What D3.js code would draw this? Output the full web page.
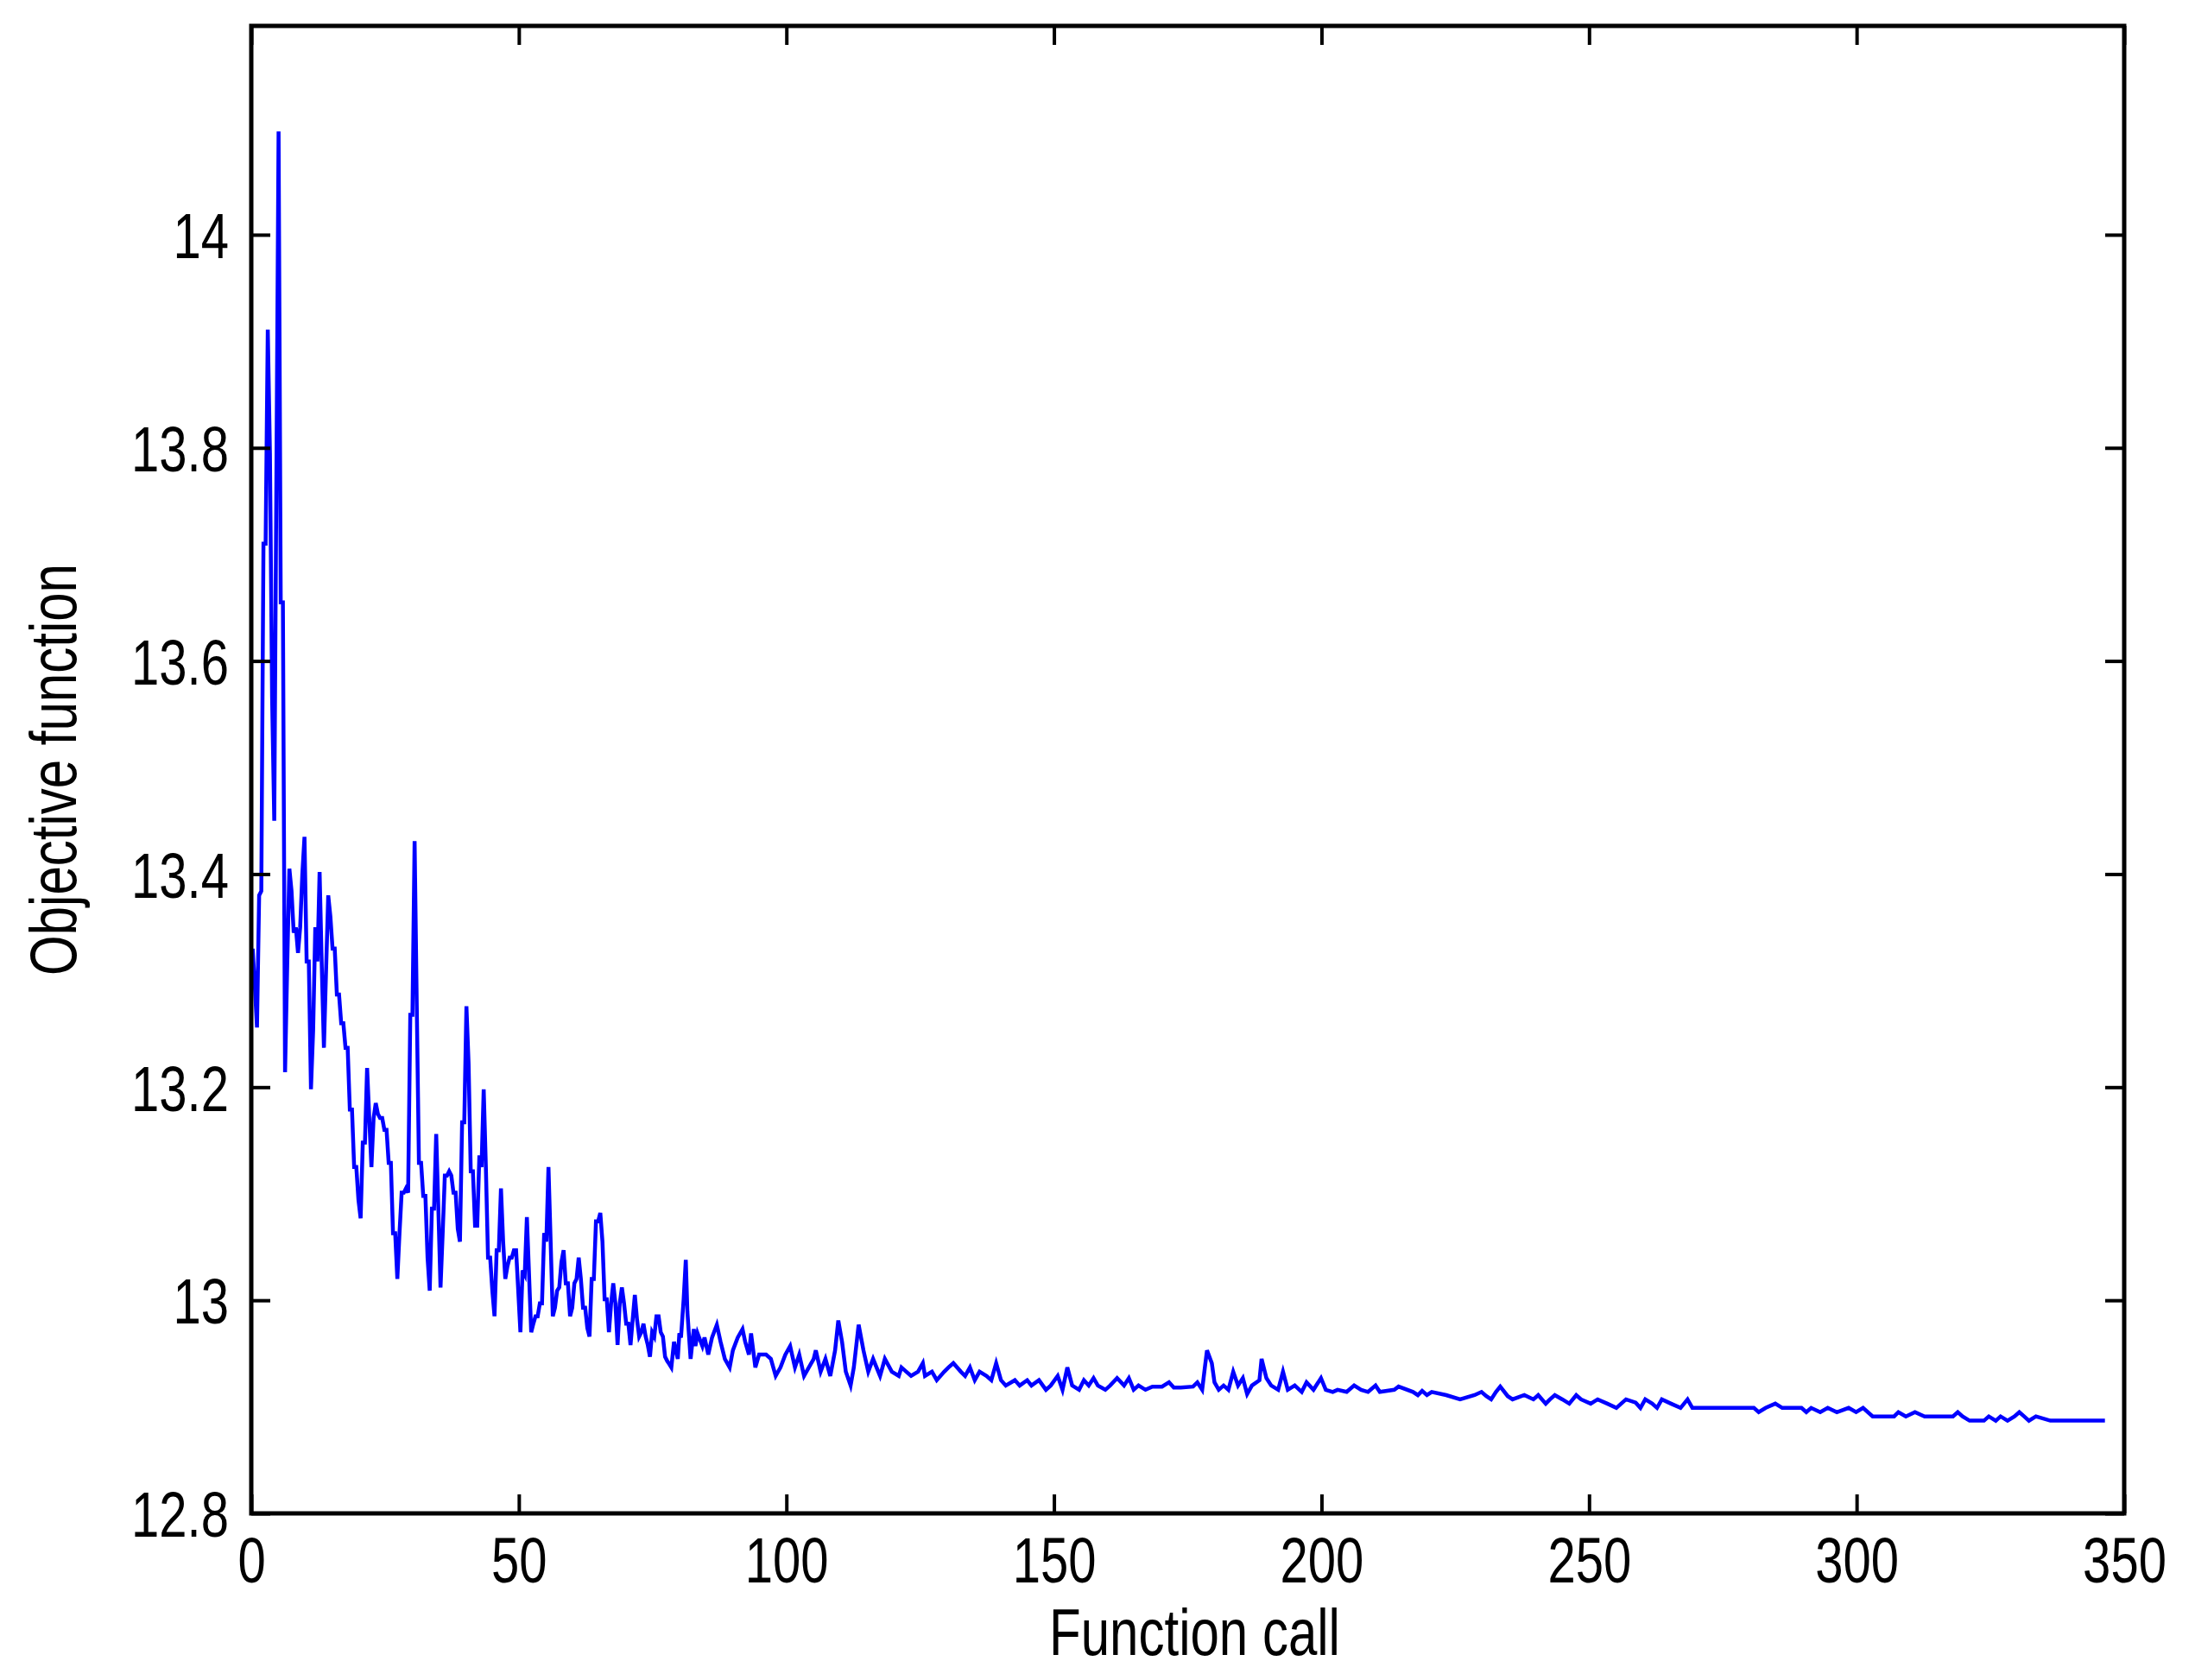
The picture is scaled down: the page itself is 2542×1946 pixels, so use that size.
<!DOCTYPE html>
<html><head><meta charset="utf-8">
<script src="https://cdn.jsdelivr.net/npm/d3@7"></script>
<style>body{margin:0;background:#fff}</style>
</head><body>
<svg id="c" width="2542" height="1946"></svg>
<script>
// Early phase (roughly 0..78 function calls), sampled evenly
const earlyStart = 0.26, earlyStep = 0.4035;
const earlyValues = [
13.33,13.295,13.256,13.38,13.384,13.71,13.71,13.911,13.795,13.566,13.45,13.775,14.097,13.655,13.655,13.214,
13.314,13.405,13.384,13.345,13.35,13.326,13.35,13.40,13.435,13.318,13.318,13.198,13.253,13.35,13.318,13.402,
13.314,13.237,13.31,13.38,13.36,13.33,13.33,13.287,13.287,13.26,13.26,13.237,13.237,13.179,13.179,13.125,
13.125,13.094,13.077,13.148,13.148,13.218,13.171,13.125,13.171,13.185,13.175,13.171,13.171,13.16,13.16,13.129,
13.129,13.063,13.063,13.02,13.063,13.101,13.101,13.105,13.101,13.268,13.268,13.431,13.276,13.129,13.129,13.098,
13.098,13.04,13.009,13.086,13.086,13.156,13.086,13.012,13.063,13.117,13.117,13.121,13.117,13.101,13.101,13.067,
13.055,13.167,13.167,13.276,13.222,13.121,13.121,13.07,13.07,13.136,13.125,13.198,13.125,13.04,13.04,13.009,
12.985,13.047,13.047,13.105,13.055,13.02,13.032,13.04,13.04,13.047,13.047,13.009,12.97,13.028,13.024,13.078,
13.024,12.97,12.978,12.985,12.985,12.997,12.997,13.063,13.055,13.125,13.055,12.985,12.993,13.009,13.012,13.036,
13.047,13.016,13.016,12.985,12.993,13.016,13.02,13.04,13.02,12.993,12.993,12.974,12.966,13.02,13.02,13.074,
13.074,13.082,13.055,13.001,13.001,12.97,12.997,13.016,12.997,12.958,12.997,13.012,12.997,12.978,12.978,12.958,
12.982,13.005,12.982,12.966,12.97,12.978,12.966,12.958,12.947,12.97,12.966,12.985,12.985,12.97,12.966,12.947,
12.943,12.94];
// Later phase: function call / objective pairs
const lateCalls = [78.5,79.0,79.7,80.0,80.3,80.8,81.2,81.5,82.1,82.7,83.0,83.4,84.3,84.7,85.4,86.1,87.0,87.7,88.5,89.4,
90.0,90.9,91.8,92.3,93.0,93.4,94.2,94.9,96.2,97.1,98.0,98.9,99.8,100.7,101.6,102.4,103.3,104.2,105.1,105.5,
106.4,107.3,108.2,109.1,109.7,110.4,111.1,112.0,112.6,113.5,114.4,115.3,116.2,117.5,118.4,119.7,121.0,121.5,122.4,123.3,
124.6,125.5,125.9,127.2,128.1,129.5,130.3,131.2,132.6,133.4,134.3,135.2,136.1,137.4,138.3,139.2,140.1,141.0,142.7,143.6,
145.0,145.8,147.2,148.5,149.4,150.7,151.6,152.5,153.4,154.7,155.6,156.5,157.4,158.2,159.6,160.5,161.8,163.1,164.0,164.9,
165.8,167.1,168.4,170.2,171.5,172.4,173.7,176.0,176.8,177.7,178.2,178.6,179.5,180.0,180.8,181.7,182.6,183.5,184.4,185.3,
186.1,187.0,188.4,188.8,189.7,190.6,191.9,192.8,193.7,195.0,196.3,197.2,198.5,199.9,200.8,202.1,203.0,204.7,206.1,207.4,
208.7,210.1,210.9,213.6,
214.4,217.1,218.0,218.8,219.7,220.6,223.3,225.9,228.6,229.9,230.8,231.7,232.6,233.4,234.8,235.7,237.9,239.6,240.5,241.9,
242.7,243.6,245.0,246.3,247.6,248.5,250.3,251.6,253.4,255.1,256.0,256.9,258.7,259.6,260.5,261.8,262.7,263.6,265.3,267.1,
268.4,269.3,280.8,281.7,283.0,284.8,286.1,289.7,290.6,291.5,293.2,294.6,296.3,298.5,299.9,301.2,303.0,307.0,307.8,309.2,
310.9,312.7,318.0,318.9,319.8,321.1,323.8,324.7,326.0,326.9,328.2,329.5,330.4,331.3,332.2,333.5,336.2,346.4];
const lateValues = [12.937,12.961,12.945,12.969,12.965,13.001,13.038,12.989,12.945,12.973,12.957,12.969,12.957,12.965,12.949,12.965,12.977,12.961,12.945,12.937,
12.953,12.965,12.973,12.961,12.949,12.969,12.937,12.949,12.949,12.945,12.929,12.937,12.949,12.957,12.937,12.949,12.929,12.937,12.945,12.953,
12.933,12.945,12.929,12.953,12.981,12.961,12.933,12.920,12.937,12.977,12.953,12.933,12.945,12.929,12.945,12.933,12.929,12.937,12.933,12.929,
12.933,12.941,12.929,12.933,12.925,12.933,12.937,12.941,12.933,12.929,12.937,12.925,12.933,12.929,12.925,12.941,12.925,12.920,12.925,12.920,
12.925,12.920,12.925,12.916,12.920,12.929,12.916,12.937,12.920,12.916,12.925,12.920,12.927,12.920,12.916,12.920,12.927,12.920,12.927,12.916,
12.920,12.916,12.919,12.919,12.923,12.918,12.918,12.919,12.923,12.916,12.937,12.953,12.941,12.923,12.916,12.920,12.916,12.933,12.920,12.927,
12.912,12.920,12.925,12.945,12.927,12.920,12.916,12.933,12.916,12.920,12.914,12.923,12.916,12.927,12.916,12.914,12.916,12.914,12.920,12.916,
12.914,12.920,12.914,12.916,
12.919,12.914,12.911,12.915,12.911,12.914,12.911,12.907,12.911,12.914,12.910,12.907,12.914,12.919,12.910,12.907,12.911,12.907,12.911,12.903,
12.907,12.911,12.907,12.903,12.911,12.907,12.903,12.907,12.903,12.899,12.903,12.907,12.904,12.899,12.907,12.903,12.899,12.907,12.903,12.899,
12.907,12.899,12.899,12.895,12.899,12.903,12.899,12.899,12.895,12.899,12.895,12.899,12.895,12.899,12.895,12.899,12.891,12.891,12.895,12.891,
12.895,12.891,12.891,12.895,12.891,12.887,12.887,12.891,12.887,12.891,12.887,12.891,12.895,12.891,12.887,12.891,12.887,12.887];
const xTicks = [0,50,100,150,200,250,300,350];
const yTicks = [12.8,13,13.2,13.4,13.6,13.8,14];
const xLabel = "Function call", yLabel = "Objective function";

const data = earlyValues.map((v,i)=>[earlyStart+i*earlyStep, v])
  .concat(lateCalls.map((c,i)=>[c, lateValues[i]]));

const L=291, R=2460, T=30, B=1753;
const x = d3.scaleLinear().domain([0,350]).range([L,R]);
const y = d3.scaleLinear().domain([12.8,14.196]).range([B,T]);
const svg = d3.select("#c");
const font = "'Liberation Sans', Arial, sans-serif";
const SY = 1.28;

svg.append("path").datum(data)
  .attr("d", d3.line().x(d=>x(d[0])).y(d=>y(d[1])))
  .attr("fill","none").attr("stroke","#0000ff").attr("stroke-width",4.5);

const tl = 22;
const gx = svg.append("g").attr("transform",`translate(0,${B})`)
  .call(d3.axisBottom(x).tickValues(xTicks).tickSize(-tl).tickPadding(0).tickFormat(d3.format("d")));
const gxt = svg.append("g").attr("transform",`translate(0,${T})`)
  .call(d3.axisTop(x).tickValues(xTicks).tickSize(-tl).tickFormat(""));
const gy = svg.append("g").attr("transform",`translate(${L},0)`)
  .call(d3.axisLeft(y).tickValues(yTicks).tickSize(-tl).tickPadding(26).tickFormat(d=>String(+d.toFixed(1))));
const gyr = svg.append("g").attr("transform",`translate(${R},0)`)
  .call(d3.axisRight(y).tickValues(yTicks).tickSize(-tl).tickFormat(""));
[gx,gxt,gy,gyr].forEach(g=>{
  g.select(".domain").remove();
  g.selectAll("line").attr("stroke","#000").attr("stroke-width",4);
  g.selectAll("text").attr("font-family",font).attr("font-size",58).attr("fill","#000");
});
gx.selectAll(".tick text").attr("y",0).attr("dy",0)
  .attr("transform",`translate(0,80) scale(1,${SY})`);
gy.selectAll(".tick text").attr("dy","0.36em").attr("transform",`scale(1,${SY})`);
svg.append("rect").attr("x",L).attr("y",T).attr("width",R-L).attr("height",B-T)
  .attr("fill","none").attr("stroke","#000").attr("stroke-width",5);

svg.append("text").attr("transform",`translate(${(L+R)/2+8},1917) scale(1,${SY})`).attr("text-anchor","middle")
  .attr("font-family",font).attr("font-size",60).text(xLabel);
svg.append("text").attr("transform",`translate(88,${(T+B)/2}) rotate(-90) scale(${1},${SY})`)
  .attr("text-anchor","middle").attr("font-family",font).attr("font-size",60).text(yLabel);
</script>
</body></html>
